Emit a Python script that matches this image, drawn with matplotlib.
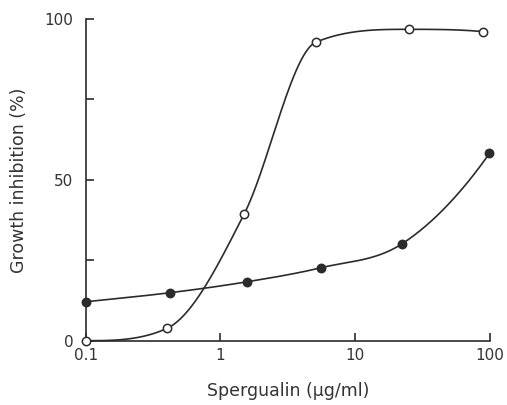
import numpy as np
import matplotlib
matplotlib.use("Agg")
import matplotlib.pyplot as plt

# Data
open_x = [0.1, 0.4, 1.5, 5.1, 25, 88]
open_y = [0.0, 3.8, 39.4, 92.8, 96.8, 96.1]
filled_x = [0.1, 0.42, 1.57, 5.6, 22.4, 99]
filled_y = [12.1, 14.9, 18.3, 22.7, 30.2, 58.2]
xticks = [0.1, 1, 10, 100]
xtick_labels = ["0.1", "1", "10", "100"]
yticks_major = [0, 50, 100]
yticks_minor = [25, 75]

INK = "#2b2b2b"


def hermite(x, y, xs, start_flat=False):
    """Cubic Hermite curve with three-point slopes, limited to avoid overshoot."""
    x = np.asarray(x, float); y = np.asarray(y, float)
    h = np.diff(x); d = np.diff(y) / h
    n = len(x)
    m = np.zeros(n)
    for k in range(1, n - 1):
        s = (h[k] * d[k - 1] + h[k - 1] * d[k]) / (h[k - 1] + h[k])
        if d[k - 1] * d[k] <= 0:
            s = 0.0
        else:
            lim = 3 * min(abs(d[k - 1]), abs(d[k]))
            s = np.sign(s) * min(abs(s), lim)
        m[k] = s
    m[0] = 0.0 if start_flat else d[0]
    m[-1] = ((2 * h[-1] + h[-2]) * d[-1] - h[-1] * d[-2]) / (h[-1] + h[-2])
    if np.sign(m[-1]) != np.sign(d[-1]):
        m[-1] = 0.0
    m[-1] = np.sign(m[-1]) * min(abs(m[-1]), 3 * abs(d[-1]))
    idx = np.clip(np.searchsorted(x, xs) - 1, 0, n - 2)
    t = (xs - x[idx]) / h[idx]
    h00 = 2 * t**3 - 3 * t**2 + 1
    h10 = t**3 - 2 * t**2 + t
    h01 = -2 * t**3 + 3 * t**2
    h11 = t**3 - t**2
    return h00 * y[idx] + h10 * h[idx] * m[idx] + h01 * y[idx + 1] + h11 * h[idx] * m[idx + 1]


def smooth(xv, yv, start_flat=False):
    lx = np.log10(xv)
    ls = np.linspace(lx[0], lx[-1], 500)
    return 10 ** ls, hermite(lx, yv, ls, start_flat)


fig = plt.figure(figsize=(5.07, 4.05), dpi=100)
ax = fig.add_axes([0.169, 0.1588, 0.7975, 0.7942])

for xv, yv, fc, flat in [(open_x, open_y, "white", True),
                         (filled_x, filled_y, INK, False)]:
    sx, sy = smooth(xv, yv, flat)
    ax.plot(sx, sy, color=INK, lw=1.2, zorder=2, clip_on=False)
    ax.plot(xv, yv, ls="none", marker="o", ms=6, mfc=fc, mec=INK, mew=1.1,
            zorder=3, clip_on=False)

ax.set_xscale("log")
ax.set_xlim(0.1, 100)
ax.set_ylim(0, 100)
ax.set_xticks(xticks)
ax.set_xticklabels(xtick_labels)
ax.xaxis.set_minor_locator(matplotlib.ticker.NullLocator())
ax.set_yticks(yticks_major)
ax.set_yticks(yticks_minor, minor=True)

for s in ["top", "right"]:
    ax.spines[s].set_visible(False)
for s in ["left", "bottom"]:
    ax.spines[s].set_color(INK)
    ax.spines[s].set_linewidth(1.2)

ax.tick_params(axis="both", which="both", direction="in", length=6,
               width=1.2, color=INK, labelsize=11, labelcolor="#333333")
ax.tick_params(axis="x", pad=5)
ax.tick_params(axis="y", pad=9)

ax.set_xlabel("Spergualin (\u03bcg/ml)", fontsize=12.5, color="#333333", labelpad=14)
ax.set_ylabel("Growth inhibition (%)", fontsize=12.5, color="#333333", labelpad=12)

fig.savefig("out.png", dpi=100)
